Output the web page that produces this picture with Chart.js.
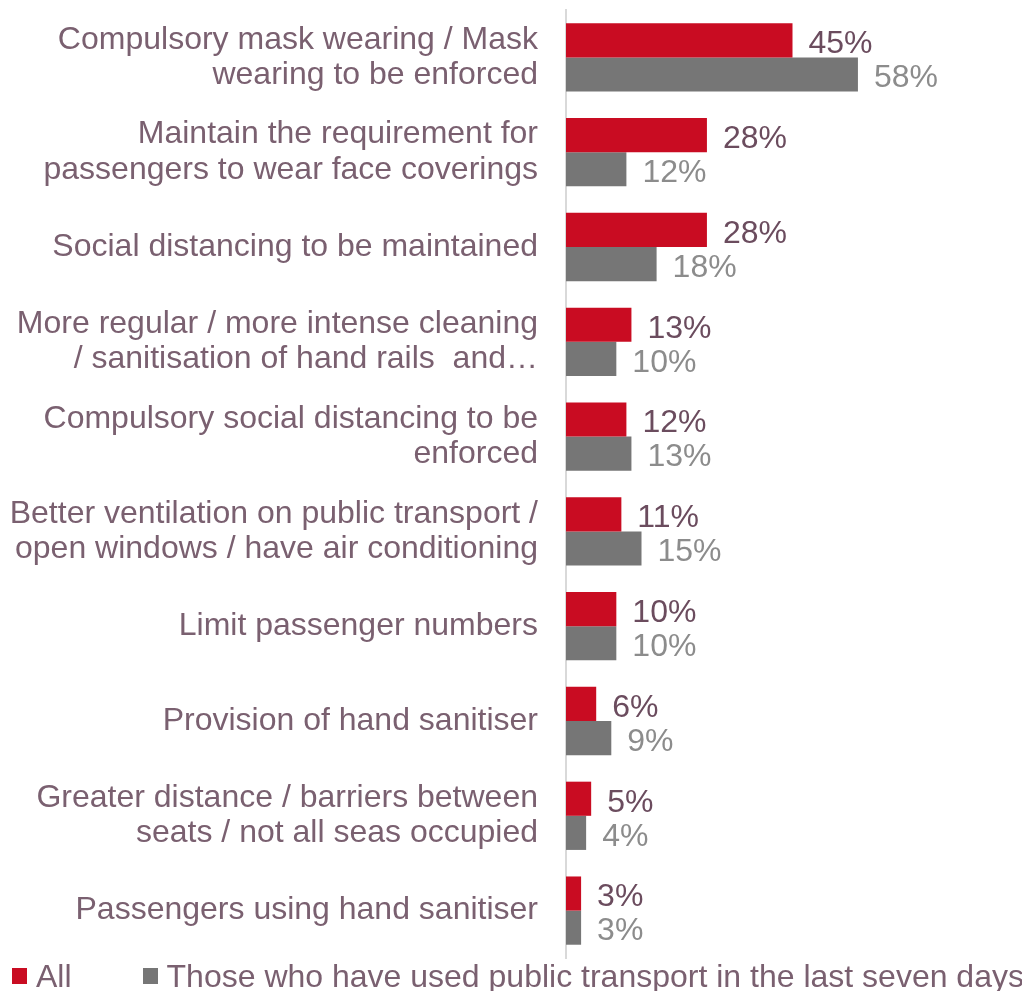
<!DOCTYPE html>
<html>
<head>
<meta charset="utf-8">
<script src="https://cdn.jsdelivr.net/npm/chart.js@4"></script>
<style>
  html, body { margin: 0; padding: 0; background: #fff; overflow: hidden; }
  #wrap { position: relative; width: 1022px; height: 991px; overflow: hidden; }
  #legend { position: absolute; left: 12px; top: 958px; font-family: "Liberation Sans", Arial, sans-serif; font-size: 32px; line-height: 36px; color: #7A6070; white-space: nowrap; }
  #legend span.box { display: inline-block; width: 15px; height: 16px; margin-right: 9px; vertical-align: 3px; }
</style>
</head>
<body>
<div id="wrap">
  <canvas id="chart" width="1022" height="991"></canvas>
  <div id="legend">
    <span class="box" style="background:#C90C22"></span>All<span style="display:inline-block;width:71px"></span><span class="box" style="background:#767676"></span>Those who have used public transport in the last seven days
  </div>
</div>
<script>
// category labels (multi-line as in the original)
const categories = [
    ['Compulsory mask wearing / Mask', 'wearing to be enforced'],
    ['Maintain the requirement for', 'passengers to wear face coverings'],
    'Social distancing to be maintained',
    ['More regular / more intense cleaning', '/ sanitisation of hand rails  and\u2026'],
    ['Compulsory social distancing to be', 'enforced'],
    ['Better ventilation on public transport /', 'open windows / have air conditioning'],
    'Limit passenger numbers',
    'Provision of hand sanitiser',
    ['Greater distance / barriers between', 'seats / not all seas occupied'],
    'Passengers using hand sanitiser'
];
const allValues = [45, 28, 28, 13, 12, 11, 10, 6, 5, 3];
const transportValues = [58, 12, 18, 10, 13, 15, 10, 9, 4, 3];

const seriesNames = ['All', 'Those who have used public transport in the last seven days'];
const barColors = ['#C90C22', '#767676'];
const valueLabelColors = ['#6B4C5E', '#8C8C8C'];
const FONT = '"Liberation Sans", Arial, sans-serif';

// draw the percentage after each bar
const valueLabels = {
    id: 'valueLabels',
    afterDatasetsDraw(chart) {
        const ctx = chart.ctx;
        ctx.save();
        ctx.font = '32px ' + FONT;
        ctx.textBaseline = 'middle';
        ctx.textAlign = 'left';
        chart.data.datasets.forEach((ds, i) => {
            const meta = chart.getDatasetMeta(i);
            ctx.fillStyle = valueLabelColors[i];
            meta.data.forEach((bar, j) => {
                ctx.fillText(ds.data[j] + '%', bar.x + 16, bar.y + 4);
            });
        });
        ctx.restore();
    }
};

new Chart(document.getElementById('chart'), {
    type: 'bar',
    data: {
        labels: categories,
        datasets: [
            { label: seriesNames[0], data: allValues, backgroundColor: barColors[0] },
            { label: seriesNames[1], data: transportValues, backgroundColor: barColors[1] }
        ]
    },
    options: {
        indexAxis: 'y',
        responsive: false,
        animation: false,
        layout: { padding: { top: 10, bottom: 33, right: 3, left: 0 } },
        datasets: { bar: { categoryPercentage: 0.72, barPercentage: 1.0 } },
        plugins: {
            legend: { display: false },
            tooltip: { enabled: false }
        },
        scales: {
            x: { display: false, min: 0, max: 90 },
            y: {
                grid: { display: false, drawTicks: false },
                border: { display: true, color: '#D9D9D9', width: 2 },
                ticks: {
                    color: '#7A6070',
                    padding: 28,
                    font: { family: FONT, size: 32, lineHeight: 1.1 }
                },
                afterFit(scale) {
                    scale.width = 566;
                    scale.paddingTop = 0;
                    scale.paddingBottom = 0;
                }
            }
        }
    },
    plugins: [valueLabels]
});
</script>
</body>
</html>
